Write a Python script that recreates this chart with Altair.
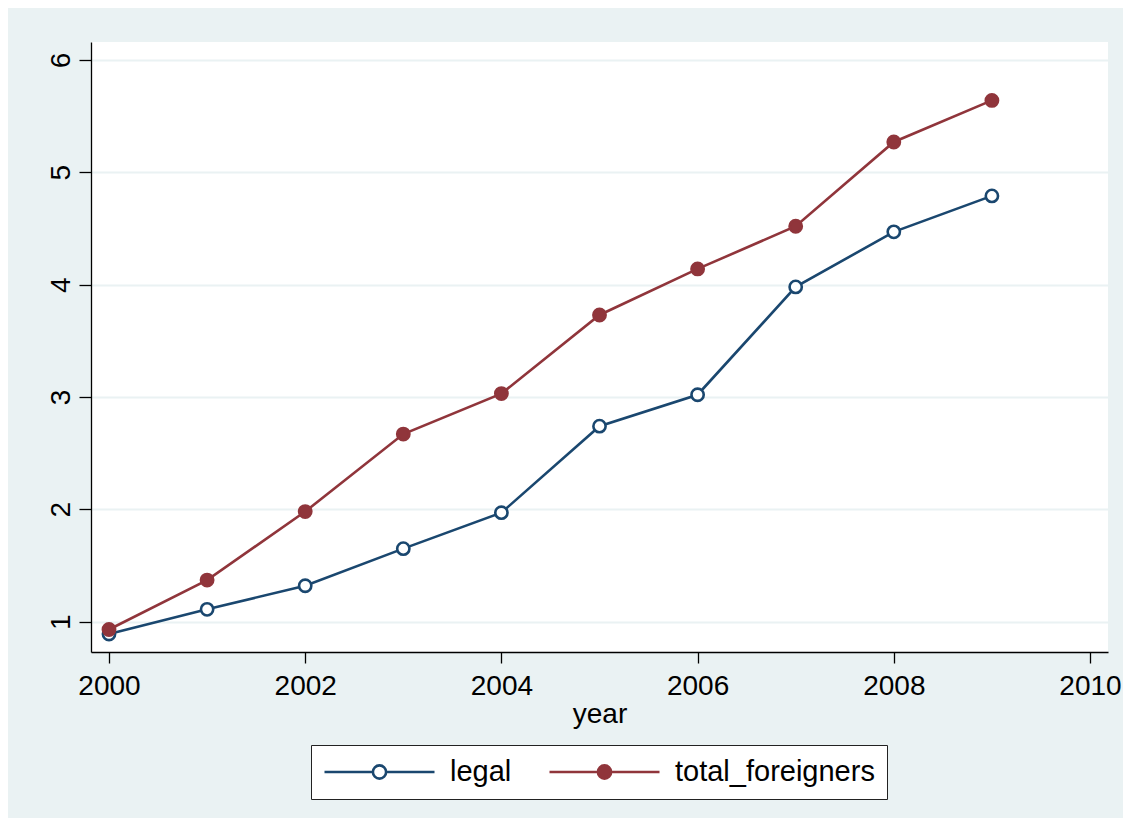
import altair as alt
import pandas as pd

years = [2000, 2001, 2002, 2003, 2004, 2005, 2006, 2007, 2008, 2009]
legal = [0.89, 1.11, 1.32, 1.65, 1.97, 2.74, 3.02, 3.98, 4.47, 4.79]
total_foreigners = [0.93, 1.37, 1.98, 2.67, 3.03, 3.73, 4.14, 4.52, 5.27, 5.64]
series_names = ["legal", "total_foreigners"]
line_colors = ["#1a476f", "#90353b"]
fill_colors = ["#ffffff", "#90353b"]
x_ticks = [2000, 2002, 2004, 2006, 2008, 2010]
y_ticks = [1, 2, 3, 4, 5, 6]

rows = []
for name, vals in zip(series_names, [legal, total_foreigners]):
    for yr, v in zip(years, vals):
        rows.append({"year": yr, "value": v, "series": name})
df = pd.DataFrame(rows)

FONT = "Liberation Sans"
BG = "#EAF2F3"

x_enc = alt.X("year:Q",
              scale=alt.Scale(domain=[1999.8165, 2010.1835], nice=False, zero=False),
              axis=alt.Axis(values=x_ticks, format="d", title="year", grid=False,
                            labelFontSize=28, titleFontSize=28, titleFontWeight="normal",
                            labelPadding=9, titlePadding=0, tickSize=11,
                            labelFlush=False))
y_enc = alt.Y("value:Q",
              scale=alt.Scale(domain=[0.73, 6.16], nice=False, zero=False),
              axis=alt.Axis(values=y_ticks, format="d", title=None, grid=True,
                            gridColor=BG, gridWidth=2.2, labelAngle=270,
                            labelFontSize=28, labelPadding=4, tickSize=12,
                            labelFlush=False))

lines = []
for name, col in zip(series_names, line_colors):
    lines.append(
        alt.Chart(df).transform_filter(alt.datum.series == name)
        .mark_line(strokeWidth=2.6)
        .encode(x=x_enc, y=y_enc, stroke=alt.value(col))
    )

sym_path = ("M-1,0H-0.12M0.12,0H1M-0.12,0A0.12,0.12 0 1,1 0.12,0"
            "A0.12,0.12 0 1,1 -0.12,0Z")
legend = alt.Legend(title=None, orient="none", legendX=220, legendY=703,
                    direction="horizontal", strokeColor="#222222",
                    fillColor="white", padding=12, labelFontSize=29,
                    labelFont=FONT, labelColor="black", symbolType=sym_path,
                    symbolSize=12100, symbolStrokeWidth=2.6, labelOffset=14,
                    columnPadding=36, clipHeight=30, symbolOpacity=1,
                    labelLimit=600)

points = alt.Chart(df).mark_point(filled=True, opacity=1, size=150,
                                  strokeWidth=2.6).encode(
    x=x_enc, y=y_enc,
    stroke=alt.Stroke("series:N", scale=alt.Scale(domain=series_names, range=line_colors),
                      legend=legend),
    fill=alt.Fill("series:N", scale=alt.Scale(domain=series_names, range=fill_colors),
                  legend=legend),
)

chart = alt.layer(*lines, points).properties(
    width=1017, height=610,
    background=BG,
    autosize=alt.AutoSizeParams(type="none"),
    padding={"left": 83, "top": 34, "right": 15, "bottom": 166},
).configure_view(fill="white", strokeWidth=0).configure_axis(
    labelFont=FONT, titleFont=FONT, labelColor="black", titleColor="black",
    domainColor="black", domainWidth=1.3, tickColor="black", tickWidth=1.3,
)

chart.save("out.html", embed_options={"renderer": "svg", "actions": False})
